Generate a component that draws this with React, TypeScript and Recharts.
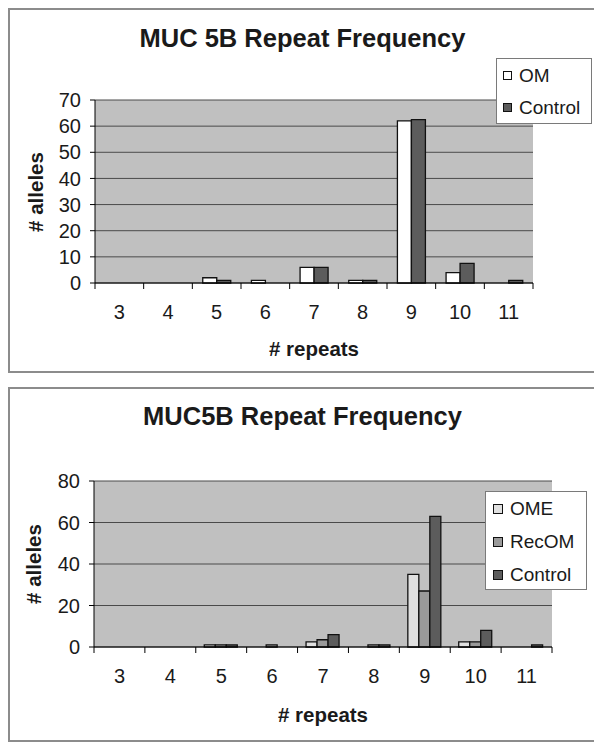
import React from 'react';
import { BarChart, Bar, XAxis, YAxis, CartesianGrid, Legend } from 'recharts';

const categories = ['3', '4', '5', '6', '7', '8', '9', '10', '11'];

// Top chart: MUC 5B Repeat Frequency
const omTop = [0, 0, 2, 1, 6, 1, 62, 4, 0];
const controlTop = [0, 0, 1, 0, 6, 1, 62.5, 7.5, 1];
const yTicksTop = [0, 10, 20, 30, 40, 50, 60, 70];
const seriesTop = ['OM', 'Control'];

// Bottom chart: MUC5B Repeat Frequency
const omeBottom = [0, 0, 1, 0, 2.5, 0, 35, 2.5, 0];
const recomBottom = [0, 0, 1, 1, 3.5, 1, 27, 2.5, 0];
const controlBottom = [0, 0, 1, 0, 6, 1, 63, 8, 1];
const yTicksBottom = [0, 20, 40, 60, 80];
const seriesBottom = ['OME', 'RecOM', 'Control'];

const topData = categories.map((c, i) => ({ repeats: c, OM: omTop[i], Control: controlTop[i] }));
const bottomData = categories.map((c, i) => ({
  repeats: c,
  OME: omeBottom[i],
  RecOM: recomBottom[i],
  Control: controlBottom[i],
}));

const FONT = '"Liberation Sans", Arial, Helvetica, sans-serif';
const TEXT = '#1a1a1a';

function makeLegend(order: string[], o: {
  width: number; height: number; rowH: number; padLeft: number; sq: number; gap: number; fontSize: number;
}) {
  return (props: any) => {
    const raw = props.payload || [];
    const items = order
      .map((name) => raw.find((it: any) => it.value === name || it.dataKey === name))
      .filter(Boolean);
    return (
      <div
        style={{
          width: o.width,
          height: o.height,
          boxSizing: 'border-box',
          border: '1px solid #7a7a7a',
          background: '#ffffff',
          paddingLeft: o.padLeft,
          fontFamily: FONT,
          fontSize: o.fontSize,
          color: TEXT,
        }}
      >
        {items.map((it: any) => (
          <div key={String(it.value)} style={{ display: 'flex', alignItems: 'center', height: o.rowH }}>
            <span
              style={{
                display: 'inline-block',
                width: o.sq,
                height: o.sq,
                boxSizing: 'border-box',
                background: it.color,
                border: '1px solid #111',
                marginRight: o.gap,
              }}
            />
            <span style={{ lineHeight: 1 }}>{it.value}</span>
          </div>
        ))}
      </div>
    );
  };
}

const YTitle = (x: number, y: number) => () => (
  <text
    x={x}
    y={y}
    transform={`rotate(-90 ${x} ${y})`}
    textAnchor="middle"
    dominantBaseline="central"
    fontWeight="bold"
    fontSize={20.5}
    fill={TEXT}
    fontFamily={FONT}
  >
    # alleles
  </text>
);

const XTitle = (x: number, y: number) => () => (
  <text
    x={x}
    y={y}
    textAnchor="middle"
    dominantBaseline="central"
    fontWeight="bold"
    fontSize={20.5}
    fill={TEXT}
    fontFamily={FONT}
  >
    # repeats
  </text>
);

// Category tick: label centred in the band plus Excel-style tick marks at band boundaries
const makeTick = (halfBand: number, count: number, labelOffset: number) => (props: any) => {
  const { x, y, payload, index } = props;
  const lines = [x - halfBand];
  if (index === count - 1) lines.push(x + halfBand);
  return (
    <g>
      {lines.map((lx, k) => (
        <line key={k} x1={lx} y1={y} x2={lx} y2={y + 6} stroke="#000" strokeWidth={1} />
      ))}
      <text
        x={x}
        y={y + labelOffset}
        textAnchor="middle"
        dominantBaseline="central"
        fontSize={20}
        fill={TEXT}
        fontFamily={FONT}
      >
        {payload.value}
      </text>
    </g>
  );
};

function Title({ text, y }: { text: string; y: number }) {
  return (
    <div
      style={{
        position: 'absolute',
        left: 0,
        top: y - 15,
        width: '100%',
        height: 30,
        lineHeight: '30px',
        textAlign: 'center',
        fontFamily: FONT,
        fontWeight: 'bold',
        fontSize: 25.5,
        color: TEXT,
        pointerEvents: 'none',
      }}
    >
      {text}
    </div>
  );
}

const Frame = () => (
  <div
    style={{
      position: 'absolute',
      left: 0,
      top: 0,
      right: 0,
      bottom: 0,
      border: '2px solid #8c8c8c',
      pointerEvents: 'none',
    }}
  />
);

const tickStyle = { fill: TEXT, fontSize: 20, fontFamily: FONT };
const axisStroke = { stroke: '#000' };

// plot widths derived from chart size and margins
const TOP_W = 589, TOP_H = 365;
const TOP_M = { top: 92, right: 64, bottom: 60, left: 0 };
const TOP_YW = 87;
const TOP_HALF = (TOP_W - TOP_M.right - TOP_YW) / categories.length / 2;

const BOT_W = 589, BOT_H = 355;
const BOT_M = { top: 94, right: 45, bottom: 65, left: 0 };
const BOT_YW = 86;
const BOT_HALF = (BOT_W - BOT_M.right - BOT_YW) / categories.length / 2;

export default function App() {
  return (
    <div style={{ fontFamily: FONT }}>
      <div style={{ position: 'relative', width: TOP_W, height: TOP_H }}>
        <BarChart
          width={TOP_W}
          height={TOP_H}
          data={topData}
          margin={TOP_M}
          barCategoryGap="21.4%"
          barGap={0}
        >
          <CartesianGrid vertical={false} stroke="#4a4a4a" fill="#c0c0c0" fillOpacity={1} />
          <XAxis
            dataKey="repeats"
            interval={0}
            tickLine={false}
            axisLine={axisStroke}
            tickSize={0}
            tickMargin={0}
            height={30}
            tick={makeTick(TOP_HALF, categories.length, 29)}
            label={{ content: XTitle(306, 340) }}
          />
          <YAxis
            width={TOP_YW}
            domain={[0, 70]}
            ticks={yTicksTop}
            interval={0}
            tickSize={5}
            tickMargin={9}
            axisLine={axisStroke}
            tickLine={axisStroke}
            tick={tickStyle}
            label={{ content: YTitle(27, 184) }}
          />
          <Legend
            layout="vertical"
            align="center"
            verticalAlign="middle"
            wrapperStyle={{ left: 488, top: 50, width: 96, height: 66 }}
            content={makeLegend(seriesTop, { width: 96, height: 66, rowH: 32, padLeft: 6, sq: 9, gap: 7, fontSize: 19 })}
          />
          <Bar dataKey="OM" fill="#ffffff" stroke="#111" strokeWidth={1.3} isAnimationActive={false} />
          <Bar dataKey="Control" fill="#5c5c5c" stroke="#111" strokeWidth={1.3} isAnimationActive={false} />
        </BarChart>
        <Title text="MUC 5B Repeat Frequency" y={30} />
        <Frame />
      </div>

      <div style={{ position: 'relative', width: BOT_W, height: BOT_H, marginTop: 14 }}>
        <BarChart
          width={BOT_W}
          height={BOT_H}
          data={bottomData}
          margin={BOT_M}
          barCategoryGap="16.7%"
          barGap={0}
        >
          <CartesianGrid vertical={false} stroke="#4a4a4a" fill="#c0c0c0" fillOpacity={1} />
          <XAxis
            dataKey="repeats"
            interval={0}
            tickLine={false}
            axisLine={axisStroke}
            tickSize={0}
            tickMargin={0}
            height={30}
            tick={makeTick(BOT_HALF, categories.length, 29)}
            label={{ content: XTitle(315, 327) }}
          />
          <YAxis
            width={BOT_YW}
            domain={[0, 80]}
            ticks={yTicksBottom}
            interval={0}
            tickSize={5}
            tickMargin={9}
            axisLine={axisStroke}
            tickLine={axisStroke}
            tick={tickStyle}
            label={{ content: YTitle(25, 177) }}
          />
          <Legend
            layout="vertical"
            align="center"
            verticalAlign="middle"
            wrapperStyle={{ left: 477, top: 104, width: 102, height: 99 }}
            content={makeLegend(seriesBottom, { width: 102, height: 99, rowH: 33, padLeft: 7, sq: 10, gap: 7, fontSize: 19 })}
          />
          <Bar dataKey="OME" fill="#e0e0e0" stroke="#111" strokeWidth={1.3} isAnimationActive={false} />
          <Bar dataKey="RecOM" fill="#9a9a9a" stroke="#111" strokeWidth={1.3} isAnimationActive={false} />
          <Bar dataKey="Control" fill="#5c5c5c" stroke="#111" strokeWidth={1.3} isAnimationActive={false} />
        </BarChart>
        <Title text="MUC5B Repeat Frequency" y={29} />
        <Frame />
      </div>
    </div>
  );
}
